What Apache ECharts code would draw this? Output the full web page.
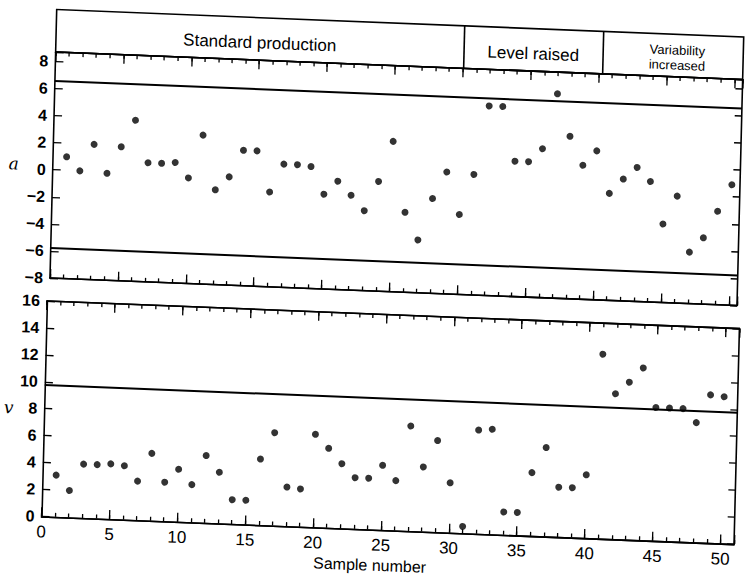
<!DOCTYPE html>
<html>
<head>
<meta charset="utf-8">
<script src="https://cdn.jsdelivr.net/npm/echarts@6/dist/echarts.min.js"></script>
<style>
  html, body { margin: 0; padding: 0; background: #fff; overflow: hidden; }
  /* the scanned page is slightly skewed, so the chart is too */
  #chart {
    width: 748px; height: 581px;
    transform-origin: 374px 290.5px;
    transform: matrix(1, 0.04, -0.025, 1, 0, 0);
  }
</style>
</head>
<body>
<div id="chart"></div>
<script>
// sample numbers
const samples = [1, 2, 3, 4, 5, 6, 7, 8, 9, 10, 11, 12, 13, 14, 15, 16, 17, 18, 19, 20,
  21, 22, 23, 24, 25, 26, 27, 28, 29, 30, 31, 32, 33, 34, 35, 36, 37, 38, 39, 40,
  41, 42, 43, 44, 45, 46, 47, 48, 49, 50];

// upper chart: a
const aValues = [1, 0, 2, -0.1, 1.9, 3.9, 0.8, 0.8, 0.9, -0.2,
  3, -1, 0, 2, 2, -1, 1.1, 1.1, 1, -1,
  0, -1, -2.1, 0.1, 3.1, -2.1, -4.1, -1, 1, -2.1,
  0.9, 6, 6, 2, 2, 3, 7.1, 4, 1.9, 3,
  -0.1, 1, 1.9, 0.9, -2.2, -0.1, -4.2, -3.1, -1.1, 0.9];

// lower chart: v
const vValues = [3.1, 2, 4, 4, 4.1, 4, 2.9, 5, 2.9, 3.9,
  2.8, 5, 3.8, 1.8, 1.8, 4.9, 6.9, 2.9, 2.8, 6.9,
  5.9, 4.8, 3.8, 3.8, 4.8, 3.7, 7.8, 4.8, 6.8, 3.7,
  0.5, 7.7, 7.8, 1.7, 1.7, 4.7, 6.6, 3.7, 3.7, 4.7,
  13.7, 10.8, 11.7, 12.8, 9.9, 9.9, 9.9, 8.9, 11, 10.9];

// control limits
const aLimits = [6.6, -5.8];
const vLimits = [9.8];

// phases along the sample axis
const phaseNames = ['Standard production', 'Level raised', 'Variability\nincreased'];
const phaseStart = [0, 30, 40.3];
const phaseEnd = [30, 40.3, 50.6];

const FONT = "'Liberation Sans', Arial, sans-serif";
const INK = '#000';

const chart = echarts.init(document.getElementById('chart'), null, { renderer: 'svg' });

function minus(v) {
  return v < 0 ? '\u2212' + Math.abs(v) : String(v);
}

// x axis that only draws a border line with inward ticks
function xTicks(gridIndex, position, max, interval, len, extra) {
  return Object.assign({
    type: 'value', gridIndex: gridIndex, position: position,
    min: 0, max: max, interval: interval,
    axisLine: { show: true, onZero: false, lineStyle: { color: INK, width: 1.6 } },
    axisTick: { show: true, inside: true, length: len, lineStyle: { color: INK, width: 1.3 } },
    axisLabel: { show: false },
    splitLine: { show: false }
  }, extra || {});
}

function yTicks(gridIndex, position, min, max, len, extra) {
  return Object.assign({
    type: 'value', gridIndex: gridIndex, position: position,
    min: min, max: max, interval: 2,
    axisLine: { show: true, onZero: false, lineStyle: { color: INK, width: 1.6 } },
    axisTick: { show: true, inside: true, length: len, lineStyle: { color: INK, width: 1.3 } },
    axisLabel: { show: false },
    splitLine: { show: false }
  }, extra || {});
}

const yLabel = {
  show: true, margin: 7, color: INK, fontFamily: FONT, fontSize: 16, fontWeight: 'bold',
  formatter: function (v) { return v % 2 === 0 ? minus(v) : ''; }
};

const axisNameStyle = {
  fontFamily: "'DejaVu Serif', 'Liberation Serif', serif", fontStyle: 'italic',
  fontSize: 17, color: INK
};

const option = {
  animation: false,
  backgroundColor: '#fff',
  grid: [
    { left: 50, right: 11, top: 22.5, height: 42.5, show: true,
      borderColor: INK, borderWidth: 1.6, backgroundColor: 'transparent' },
    { left: 50, right: 11, top: 65, height: 226 },
    { left: 47.5, right: 8, top: 314, height: 215.4 }
  ],
  xAxis: [
    { type: 'value', gridIndex: 0, min: 0, max: 50.6, show: false },
    xTicks(1, 'bottom', 50.6, 1, 4),
    xTicks(1, 'bottom', 50.6, 5, 9),
    xTicks(1, 'top', 50.6, 1, 4),
    xTicks(1, 'top', 50.6, 5, 9),
    xTicks(2, 'bottom', 51, 1, 4),
    xTicks(2, 'bottom', 51, 5, 9, {
      axisLabel: {
        show: true, margin: 7, color: INK, fontFamily: FONT, fontSize: 17,
        formatter: function (v) { return v % 5 === 0 ? String(v) : ''; }
      }
    }),
    xTicks(2, 'top', 51, 1, 4),
    xTicks(2, 'top', 51, 5, 9)
  ],
  yAxis: [
    { type: 'value', gridIndex: 0, min: 0, max: 1, show: false },
    yTicks(1, 'left', -8, 8.7, 8, {
      axisLabel: yLabel,
      name: 'a', nameLocation: 'middle', nameRotate: 0, nameGap: 34,
      nameTextStyle: Object.assign({ padding: [14, 0, 0, 0] }, axisNameStyle)
    }),
    yTicks(1, 'right', -8, 8.7, 7),
    yTicks(2, 'left', 0, 16, 8, {
      axisLabel: yLabel,
      name: 'v', nameLocation: 'middle', nameRotate: 0, nameGap: 30,
      nameTextStyle: axisNameStyle
    }),
    yTicks(2, 'right', 0, 16, 7)
  ],
  graphic: [
    {
      type: 'text', left: 320, top: 557,
      style: { text: 'Sample number', fill: INK, font: '16px ' + FONT }
    }
  ],
  series: [
    {
      name: 'phases', type: 'scatter', xAxisIndex: 0, yAxisIndex: 0, data: [],
      markLine: {
        silent: true, symbol: 'none', label: { show: false },
        lineStyle: { color: INK, type: 'solid', width: 1.6 },
        data: phaseStart.slice(1).map(function (x) { return { xAxis: x }; })
      },
      markArea: {
        silent: true,
        itemStyle: { color: 'transparent' },
        label: {
          show: true, position: 'inside', offset: [0, 4], color: INK,
          fontFamily: FONT, fontSize: 17
        },
        data: phaseNames.map(function (n, i) {
          const small = n.indexOf('\n') >= 0;
          return [
            { name: n, xAxis: phaseStart[i],
              label: small ? { fontSize: 13, lineHeight: 15, offset: [4, 2] } : {} },
            { xAxis: phaseEnd[i] }
          ];
        })
      }
    },
    {
      name: 'a', type: 'scatter', xAxisIndex: 1, yAxisIndex: 1,
      symbolSize: 7, itemStyle: { color: INK },
      data: samples.map(function (s, i) { return [s, aValues[i]]; }),
      markLine: {
        silent: true, symbol: 'none', label: { show: false },
        lineStyle: { color: INK, type: 'solid', width: 2 },
        data: aLimits.map(function (y) { return { yAxis: y }; })
      }
    },
    {
      name: 'v', type: 'scatter', xAxisIndex: 5, yAxisIndex: 3,
      symbolSize: 7, itemStyle: { color: INK },
      data: samples.map(function (s, i) { return [s, vValues[i]]; }),
      markLine: {
        silent: true, symbol: 'none', label: { show: false },
        lineStyle: { color: INK, type: 'solid', width: 2 },
        data: vLimits.map(function (y) { return { yAxis: y }; })
      }
    }
  ]
};

chart.setOption(option);
</script>
</body>
</html>
